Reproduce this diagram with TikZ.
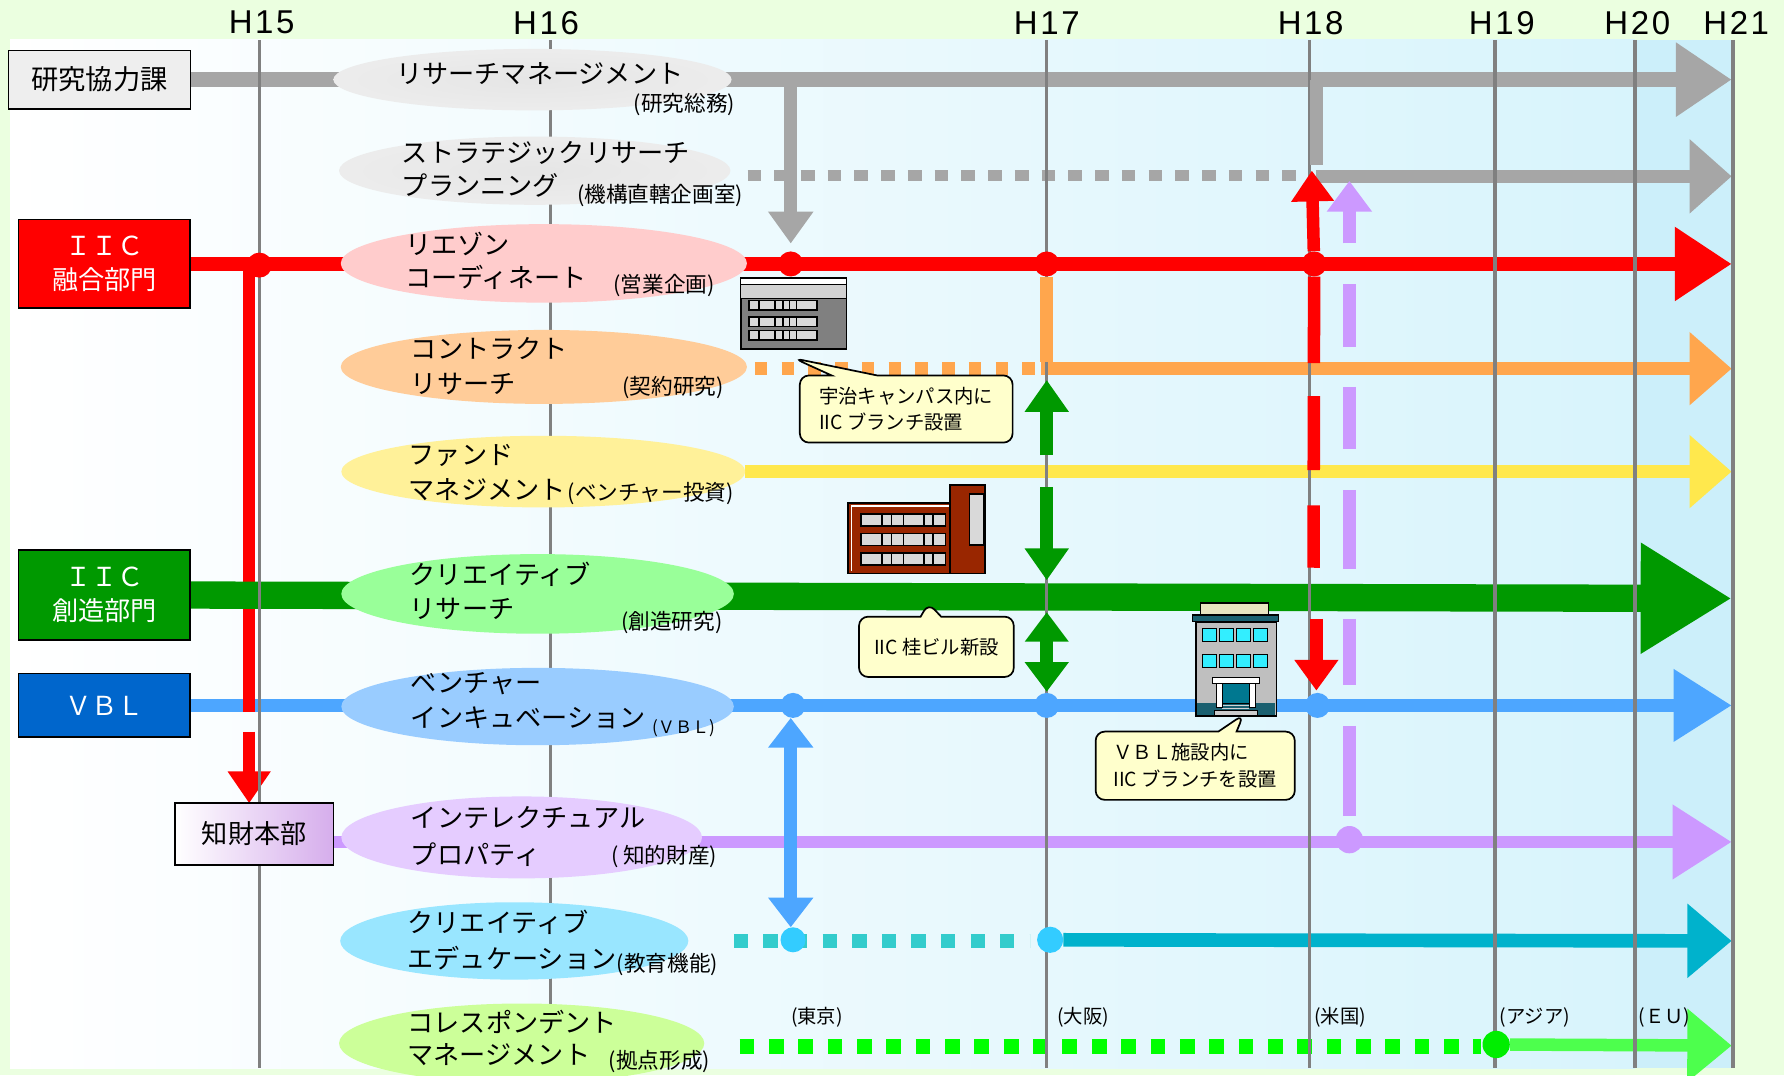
\documentclass[tikz,border=0pt]{standalone}
\usepackage{fontspec}
\setmainfont{Noto Sans CJK JP}
\newfontfamily\yearfont[LetterSpace=8]{Liberation Sans}
\usetikzlibrary{arrows.meta,shapes.geometric,shapes.callouts}

\definecolor{bgc}{HTML}{EBFFE0}
\definecolor{panelc}{HTML}{D8F4FC}
\definecolor{bandc}{HTML}{CCEFFA}
\definecolor{gridc}{HTML}{808080}
\definecolor{rowgray}{HTML}{A6A6A6}
\definecolor{rowred}{HTML}{FF0000}
\definecolor{roworange}{HTML}{FFA64D}
\definecolor{rowyellow}{HTML}{FFE84D}
\definecolor{rowgreen}{HTML}{009900}
\definecolor{rowblue}{HTML}{4DA6FF}
\definecolor{rowpurple}{HTML}{CC99FF}
\definecolor{rowcyan}{HTML}{00B2CC}
\definecolor{dashcyan}{HTML}{33CCCC}
\definecolor{dotcyan}{HTML}{33CCFF}
\definecolor{rowlime}{HTML}{4DFF4D}
\definecolor{dashlime}{HTML}{00FF00}
\definecolor{dotlime}{HTML}{00EE00}
\definecolor{boxgray}{HTML}{EEEEEE}
\definecolor{boxblue}{HTML}{0066CC}
\definecolor{ovpink}{HTML}{FFCCCC}
\definecolor{ovorange}{HTML}{FFCC99}
\definecolor{ovyellow}{HTML}{FFF199}
\definecolor{ovgreen}{HTML}{99FF99}
\definecolor{ovblue}{HTML}{99CCFF}
\definecolor{ovpurple}{HTML}{E5CCFF}
\definecolor{ovcyan}{HTML}{99E6FF}
\definecolor{ovlime}{HTML}{CCFF99}
\definecolor{notec}{HTML}{FFFFCC}
\definecolor{brickc}{HTML}{992600}
\definecolor{capc}{HTML}{E8E4C0}
\definecolor{roofc}{HTML}{1A6070}
\definecolor{winc}{HTML}{33EEFF}
\definecolor{doorc}{HTML}{007890}

\pgfdeclarelayer{back}
\pgfdeclarelayer{rows}
\pgfdeclarelayer{grid}
\pgfdeclarelayer{links}
\pgfsetlayers{back,rows,grid,links,main}

% gray oval with a light ring
\pgfdeclareradialshading{grayoval}{\pgfpoint{0bp}{0bp}}{%
  color(0bp)=(gray!20); color(28bp)=(gray!14); color(40bp)=(gray!4);
  color(46bp)=(gray!20); color(50bp)=(gray!34)}

\begin{document}
\begin{tikzpicture}[x=1pt,y=-1pt,
  box/.style={draw=black,line width=1.5pt,minimum width=151pt,inner sep=0pt,align=center,font=\fontsize{23}{30}\selectfont},
  oval/.style={ellipse,inner sep=0pt},
  lbl/.style={anchor=west,inner sep=0pt,font=\fontsize{23}{28}\selectfont},
  sublbl/.style={anchor=west,inner sep=0pt,font=\fontsize{19}{22}\selectfont},
  yearlbl/.style={inner sep=0pt,font=\yearfont\fontsize{29}{30}\selectfont},
  placelbl/.style={inner sep=0pt,font=\fontsize{17}{20}\selectfont},
  dot/.style={circle,inner sep=0pt,minimum size=22pt},
  note/.style={rectangle callout,draw=black,line width=1.5pt,fill=notec,rounded corners=8pt,align=left,inner sep=0pt,font=\fontsize{17}{23}\selectfont},
  gridline/.style={draw=gridc,line width=3pt},
  link/.style={line width=11pt}
]
\useasboundingbox (0,0) rectangle (1568,945);

\begin{pgfonlayer}{back}
  \fill[bgc] (0,0) rectangle (1568,945);
  \shade[left color=white,right color=panelc] (9,35) rectangle (1437,939);
  \fill[bandc] (1437,35) rectangle (1523,939);
\end{pgfonlayer}

% years
\node[yearlbl] (h15) at (230,20) {H15};
\node[yearlbl] (h16) at (480,20) {H16};
\node[yearlbl] (h17) at (920,20) {H17};
\node[yearlbl] (h18) at (1152,20) {H18};
\node[yearlbl] (h19) at (1320,20) {H19};
\node[yearlbl] (h20) at (1439,20) {H20};
\node[yearlbl] (h21) at (1526,20) {H21};

% departments
\node[box,fill=boxgray,minimum width=160pt,minimum height=51pt,font=\fontsize{24}{30}\selectfont] (kenkyu) at (87.5,70) {研究協力課};
\node[box,fill=rowred,text=white,minimum height=78pt] (yugo) at (91.75,232) {ＩＩＣ\\融合部門};
\node[box,fill=rowgreen,text=white,minimum height=79pt] (sozo) at (91.75,523) {ＩＩＣ\\創造部門};
\node[box,fill=boxblue,text=white,minimum height=56pt] (vbl) at (91.75,620) {ＶＢＬ};
\node[box,left color=white,right color=ovpurple!85!violet,minimum width=139pt,minimum height=55pt] (chizai) at (223.5,733) {知財本部};

% functions
\node[oval,shading=grayoval,minimum width=350pt,minimum height=54pt] (rm) at (468,70) {};
\node[oval,shading=grayoval,minimum width=344pt,minimum height=60pt] (srp) at (470,150) {};
\node[oval,fill=ovpink,minimum width=357pt,minimum height=69pt] (lc) at (478,231.5) {};
\node[oval,fill=ovorange,minimum width=357pt,minimum height=65pt] (cr) at (478,322.5) {};
\node[oval,fill=ovyellow,minimum width=355pt,minimum height=63pt] (fm) at (477.5,414.5) {};
\node[oval,fill=ovgreen,minimum width=345pt,minimum height=70pt] (crr) at (472.5,522) {};
\node[oval,fill=ovblue,minimum width=345pt,minimum height=68pt] (vi) at (472.5,621) {};
\node[oval,fill=ovpurple,minimum width=317pt,minimum height=72pt] (ip) at (458.5,736) {};
\node[oval,fill=ovcyan,minimum width=306pt,minimum height=68pt] (ce) at (452,827) {};
\node[oval,fill=ovlime,minimum width=321pt,minimum height=70pt] (cm) at (458.5,917) {};

% junction dots
\node[dot,fill=rowred] (rd1) at (228,233) {};
\node[dot,fill=rowred] (rd2) at (695,232) {};
\node[dot,fill=rowred] (rd3) at (920,232) {};
\node[dot,fill=rowred] (rd4) at (1155,232) {};
\node[dot,fill=rowblue] (bd1) at (697,620) {};
\node[dot,fill=rowblue] (bd2) at (920,620) {};
\node[dot,fill=rowblue] (bd3) at (1158,620) {};
\node[dot,fill=dotcyan] (cd1) at (697,826) {};
\node[dot,fill=dotcyan,minimum size=23pt] (cd2) at (923,826) {};
\node[dot,fill=rowpurple,minimum size=24pt] (pd1) at (1186,738) {};
\node[dot,fill=dotlime,minimum size=24pt] (gd1) at (1315,918) {};

\coordinate (tip1) at (1522,70);
\coordinate (tip2) at (1522,155);
\coordinate (tip3) at (1522,232);
\coordinate (tip4) at (1522,324);
\coordinate (tip5) at (1522,414.5);
\coordinate (tip6) at (1522,526);
\coordinate (tip7) at (1522,620);
\coordinate (tip8) at (1522,740);
\coordinate (tip9) at (1522,827);
\coordinate (tip10) at (1522,919);

\begin{pgfonlayer}{rows}
  \draw[rowgray,line width=13pt,-{Triangle[length=49pt,width=62pt]}] (kenkyu.east) -- (tip1);
  \draw[rowgray,line width=10pt,dash pattern=on 12pt off 11.5pt] (657,154) -- (1140,154);
  \draw[rowgray,line width=12pt,-{Triangle[length=37pt,width=63pt]}] (1157,155) -- (tip2);
  \draw[rowred,line width=12pt,-{Triangle[length=50pt,width=62pt]}] (yugo.east) -- (tip3);
  \draw[roworange,line width=12pt,dash pattern=on 11pt off 12.5pt] (640,324) -- (912,324);
  \draw[roworange,line width=12pt,-{Triangle[length=37pt,width=62pt]}] (915,324) -- (tip4);
  \draw[rowyellow,line width=11pt,-{Triangle[length=37pt,width=62pt]}] (fm) -- (tip5);
  \draw[rowblue,line width=11pt,-{Triangle[length=51pt,width=61pt]}] (vbl.east) -- (tip7);
  \draw[rowpurple,line width=11pt,-{Triangle[length=52pt,width=63pt]}] (chizai.east |- tip8) -- (tip8);
  \draw[dashcyan,line width=13pt,dash pattern=on 12.6pt off 13.4pt] (645,827) -- (905,827);
  \draw[rowcyan,line width=12pt,-{Triangle[length=39pt,width=63pt]}] (cd2) -- (tip9);
  \draw[dashlime,line width=13pt,dash pattern=on 13pt off 12.8pt] (650,920) -- (1302,920);
  \draw[rowlime,line width=11pt,-{Triangle[length=39pt,width=62pt]}] (gd1) -- (tip10);
  % IIC to the IP headquarters
  \draw[rowred,line width=11pt] (219,233) -- (219,626);
  \draw[rowred,line width=11pt,-{Triangle[length=28pt,width=36pt]}] (219,643) -- (219,706);
  \draw[rowgreen,line width=24pt,-{Triangle[length=80pt,width=92pt]}] (sozo.east) -- (tip6);
\end{pgfonlayer}

\begin{pgfonlayer}{grid}
  \draw[gridline] (228,35) -- (228,939);
  \draw[gridline] (484,35) -- (484,939);
  \draw[gridline] (920,35) -- (920,939);
  \draw[gridline] (1151,35) -- (1151,939);
  \draw[gridline] (1314,35) -- (1314,939);
  \draw[gridline] (1437,35) -- (1437,939);
  \draw[gridline] (1523,35) -- (1523,939);
\end{pgfonlayer}

\begin{pgfonlayer}{links}
  \draw[rowgray,link,-{Triangle[length=28pt,width=38pt]}] (695,70) -- (695,214);
  \draw[rowgray,line width=12pt] (1157,70) -- (1157,145);
  \draw[roworange,link] (rd3) -- (920,318);
  \draw[rowgreen,link,-{Triangle[length=28pt,width=37pt]}] (920,400) -- (920,334);
  \draw[rowgreen,link,-{Triangle[length=28pt,width=37pt]}] (920,428) -- (920,510);
  \draw[rowgreen,link,{Triangle[length=26pt,width=37pt]}-{Triangle[length=26pt,width=37pt]}] (920,538) -- (920,608);
  \draw[rowred,link,-{Triangle[length=27pt,width=36pt]}] (rd4) -- (1153,150);
  \draw[rowred,link,dash pattern=on 76pt off 29pt on 65pt off 31pt on 66pt off 60pt] (rd4) -- (1154.5,499);
  \draw[rowred,link,-{Triangle[length=27pt,width=37pt]}] (1157,544) -- (1157,607);
  \draw[rowpurple,line width=12pt,-{Triangle[length=27pt,width=38pt]}] (1186,214) -- (1186,159);
  \foreach \a/\b in {250/305,340/395,431/500,544/602,638/717}
    \draw[rowpurple,line width=12pt] (1186,\a) -- (1186,\b);
  \draw[rowblue,link,{Triangle[length=26pt,width=38pt]}-{Triangle[length=26pt,width=38pt]}] (695,631) -- (695,815);
\end{pgfonlayer}

% Uji building
\draw[line width=1.5pt,fill=gridc] (651,244.5) rectangle (744,306.5);
\draw[line width=1pt,fill=white] (651,244.5) rectangle (744,250);
\draw[line width=1pt,fill=gray!35] (651,250) rectangle (744,262);
\foreach \wy in {264,278.5,290.5}{
  \draw[line width=1.5pt,fill=gray!30] (658,\wy) rectangle (718,\wy+8.5);
  \foreach \wx in {667,681,688,694,700}
    \draw[line width=1.5pt] (\wx,\wy) -- (\wx,\wy+8.5);
}

% Katsura building
\draw[line width=1.5pt,fill=brickc] (745.5,442) rectangle (837,504);
\draw[white,line width=1.5pt] (748.5,502) -- (748.5,445) -- (834,445);
\draw[line width=1.5pt,fill=brickc] (835,426.5) rectangle (866,504);
\draw[line width=1.5pt,fill=gray!30] (852,434) rectangle (865,479);
\foreach \wy in {452,469,486}{
  \draw[line width=1.5pt,fill=gray!30] (757,\wy) rectangle (831,\wy+10.5);
  \foreach \wx in {775.5,783.5,794,812,820}
    \draw[line width=1.5pt] (\wx,\wy) -- (\wx,\wy+10.5);
}

% VBL building
\draw[line width=1pt,fill=capc] (1055,530) rectangle (1115,540.5);
\draw[line width=1pt,fill=roofc] (1048,540.5) rectangle (1124,546.5);
\draw[line width=1.5pt,fill=gray!50] (1051,546.5) rectangle (1122,629);
\foreach \wx in {1057,1072,1087,1102}
  \foreach \wy in {552.5,575}
    \draw[line width=1pt,fill=winc] (\wx,\wy) rectangle (\wx+12,\wy+11.5);
\fill[roofc] (1052,618) rectangle (1121,628);
\draw[line width=0.8pt,fill=doorc] (1073,601) rectangle (1099,618);
\foreach \sy in {620,622.5,625}
  \draw[gray!35,line width=1.2pt] (1074,\sy) -- (1098,\sy);
\draw[line width=0.8pt,fill=white] (1069,601) rectangle (1074,622);
\draw[line width=0.8pt,fill=white] (1098.5,601) rectangle (1103.5,622);
\draw[line width=0.8pt,fill=white] (1066,595) rectangle (1107,601);
\draw[line width=0.8pt,fill=gray!40] (1067,624.5) rectangle (1105,629);

% notes
\coordinate (ujitip) at (698,315);
\coordinate (katsuratip) at (816,530);
\coordinate (vbltip) at (1093,628);
\node[note,minimum width=187pt,minimum height=59pt,callout absolute pointer={(ujitip)},callout pointer width=40pt] (ujinote) at (796.5,359.5) {宇治キャンパス内に\\IIC ブランチ設置};
\node[note,minimum width=136pt,minimum height=53pt,callout absolute pointer={(katsuratip)},callout pointer width=18pt] (katsuranote) at (823,568.5) {IIC 桂ビル新設};
\node[note,minimum width=175pt,minimum height=60pt,callout absolute pointer={(vbltip)},callout pointer width=16pt] (vblnote) at (1050.5,673) {ＶＢＬ施設内に\\IIC ブランチを設置};

% texts in the ovals
\node[lbl] (rmtxt) at (348,65) {リサーチマネージメント};
\node[sublbl] (rmsub) at (557,91.5) {(研究総務)};
\node[lbl] (srptxta) at (353,134) {ストラテジックリサーチ};
\node[lbl] (srptxtb) at (353,163) {プランニング};
\node[sublbl] (srpsub) at (507,171.5) {(機構直轄企画室)};
\node[lbl] (lctxta) at (356,214) {リエゾン};
\node[lbl] (lctxtb) at (356,244) {コーディネート};
\node[sublbl] (lcsub) at (539,251) {(営業企画)};
\node[lbl] (crtxta) at (361,306) {コントラクト};
\node[lbl] (crtxtb) at (361,337) {リサーチ};
\node[sublbl] (crsub) at (547,341) {(契約研究)};
\node[lbl] (fmtxta) at (359,400) {ファンド};
\node[lbl] (fmtxtb) at (359,430) {マネジメント};
\node[sublbl] (fmsub) at (499,434) {(ベンチャー投資)};
\node[lbl] (crrtxta) at (360,505) {クリエイティブ};
\node[lbl] (crrtxtb) at (360,535) {リサーチ};
\node[sublbl] (crrsub) at (546,547) {(創造研究)};
\node[lbl] (vitxta) at (361,601) {ベンチャー};
\node[lbl] (vitxtb) at (361,631) {インキュベーション};
\node[sublbl,font=\fontsize{15}{18}\selectfont] (visub) at (573,640) {(ＶＢＬ)};
\node[lbl] (iptxta) at (361,719) {インテレクチュアル};
\node[lbl] (iptxtb) at (361,751) {プロパティ};
\node[sublbl] (ipsub) at (537,753) {( 知的財産)};
\node[lbl] (cetxta) at (358,811) {クリエイティブ};
\node[lbl] (cetxtb) at (358,842) {エデュケーション};
\node[sublbl] (cesub) at (542,848) {(教育機能)};
\node[lbl] (cmtxta) at (358,898) {コレスポンデント};
\node[lbl] (cmtxtb) at (358,927) {マネージメント};
\node[sublbl] (cmsub) at (535,933) {(拠点形成)};

% bases
\node[placelbl] (tokyo) at (718,894) {(東京)};
\node[placelbl] (osaka) at (952,894) {(大阪)};
\node[placelbl] (usa) at (1178,894) {(米国)};
\node[placelbl] (asia) at (1349,894) {(アジア)};
\node[placelbl] (eu) at (1463,894) {(ＥＵ)};
\end{tikzpicture}
\end{document}
